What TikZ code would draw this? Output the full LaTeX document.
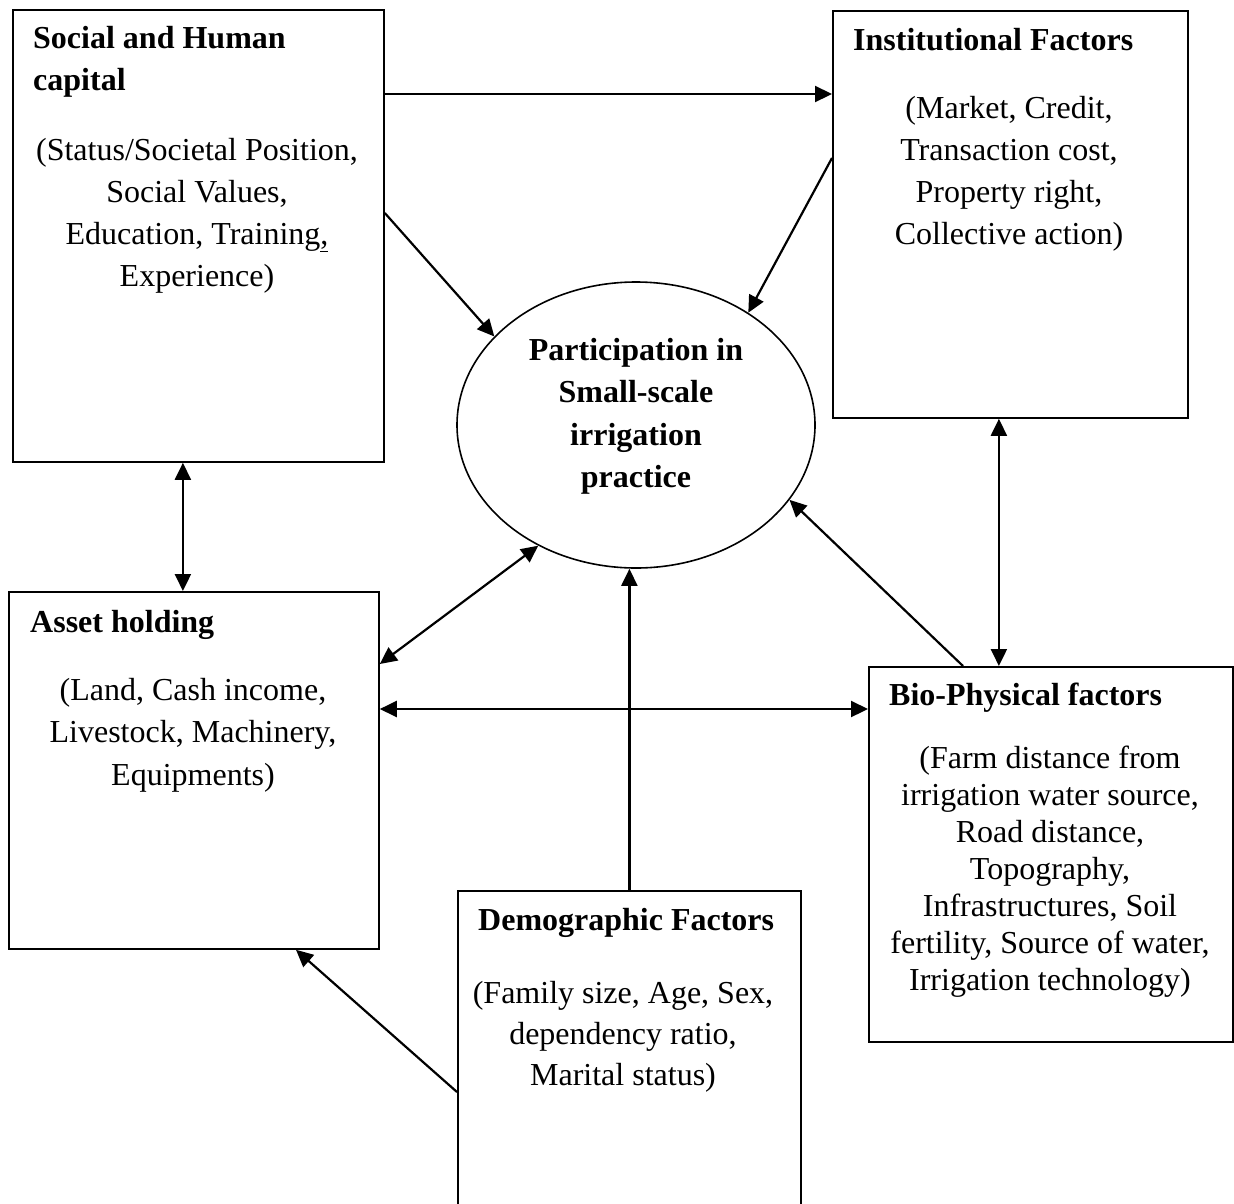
\documentclass[tikz,border=0pt]{standalone}
\usepackage{fontspec}
\setmainfont{Liberation Serif}
\usetikzlibrary{arrows.meta,shapes.geometric}
\definecolor{diagramInk}{RGB}{0,0,0}

\begin{document}
\begin{tikzpicture}[x=1pt,y=-1pt]
  \tikzstyle{box} = [draw=diagramInk, line width=1.8pt, rectangle, anchor=north west, inner sep=0pt]
  \tikzstyle{title} = [anchor=north west, inner sep=0pt, align=left, font=\fontsize{32}{42}\selectfont\bfseries]
  \tikzstyle{body} = [anchor=north, inner sep=0pt, align=center, font=\fontsize{32}{42}\selectfont]
  \tikzstyle{link} = [draw=diagramInk, line width=2.2pt, -{Triangle[length=17pt,width=16pt]}]
  \tikzstyle{both} = [link, {Triangle[length=17pt,width=16pt]}-{Triangle[length=17pt,width=16pt]}]
  \clip (0,0) rectangle (1234,1203);
  \fill[white] (0,0) rectangle (1234,1203);
  % boxes
  \node[box, minimum width=371pt, minimum height=452pt] (soc) at (12,9) {};
  \node[box, minimum width=355pt, minimum height=407pt] (inst) at (832,10) {};
  \node[box, minimum width=370pt, minimum height=357pt] (asset) at (8,591) {};
  \node[box, minimum width=364pt, minimum height=375pt] (bio) at (868,666) {};
  \node[box, minimum width=343pt, minimum height=340pt] (demo) at (457,890) {};
  \node[draw=diagramInk, line width=1.6pt, ellipse, minimum width=358pt, minimum height=286pt, inner sep=0pt] (part) at (636,425) {};
  % texts
  \node[title] (socT) at (33,26) {Social and Human\\capital};
  \node[body] (socB) at (197,138) {(Status/Societal Position,\\Social Values,\\Education, Training\underline{,}\\Experience)};
  \node[title] (instT) at (853,28) {Institutional Factors};
  \node[body] (instB) at (1009,96) {(Market, Credit,\\Transaction cost,\\Property right,\\Collective action)};
  \node[body, font=\fontsize{32}{42.5}\selectfont\bfseries] (partT) at (636,338) {Participation in\\Small-scale\\irrigation\\practice};
  \node[title] (assetT) at (30,610) {Asset holding};
  \node[body, font=\fontsize{32}{42.5}\selectfont] (assetB) at (193,678) {(Land, Cash income,\\Livestock, Machinery,\\Equipments)};
  \node[title] (bioT) at (889,683) {Bio-Physical factors};
  \node[body, font=\fontsize{32}{37}\selectfont] (bioB) at (1050,746) {(Farm distance from\\irrigation water source,\\Road distance,\\Topography,\\Infrastructures, Soil\\fertility, Source of water,\\Irrigation technology)};
  \node[title] (demoT) at (478,908) {Demographic Factors};
  \node[body, font=\fontsize{32}{41}\selectfont] (demoB) at (623,981) {(Family size, Age, Sex,\\dependency ratio,\\Marital status)};
  % connectors
  \draw[link] ([yshift=-85pt]soc.north east) -- ([yshift=-84pt]inst.north west);
  \draw[link] ([yshift=-204pt]soc.north east) -- (part.148);
  \draw[link] ([yshift=-148pt]inst.north west) -- (part.45);
  \draw[both] ([xshift=-11pt]asset.north) -- ([xshift=-11pt]asset.north |- soc.south);
  \draw[both] ([xshift=-11.5pt]inst.south) -- ([xshift=-11.5pt]inst.south |- bio.north);
  \draw[both] ([yshift=-73pt]asset.north east) -- (part.231);
  \draw[both] ([yshift=-118pt]asset.north east) -- ([yshift=-43pt]bio.north west);
  \draw[link] (demo.north) -- (demo.north |- part.south);
  \draw[link] ([xshift=95pt]bio.north west) -- (part.334);
  \draw[link] ([yshift=-202pt]demo.north west) -- ([xshift=288pt]asset.south west);
\end{tikzpicture}
\end{document}
